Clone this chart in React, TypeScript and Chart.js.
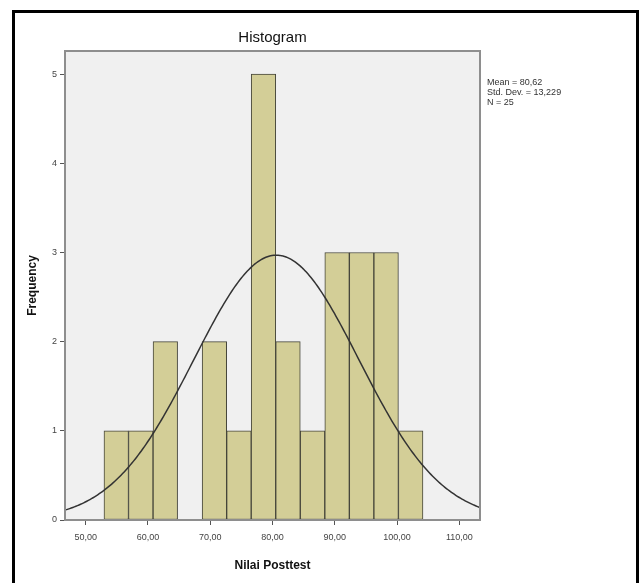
import React, { useEffect, useRef } from "react";
import { Chart, registerables } from "chart.js";

Chart.register(...registerables);

// ---- data ----
const BIN_LOWER = [52.94, 56.88, 60.82, 64.76, 68.70, 72.64, 76.58, 80.52, 84.46, 88.40, 92.34, 96.28, 100.22];
const BIN_WIDTH = 3.94;
const COUNTS = [1, 1, 2, 0, 2, 1, 5, 2, 1, 3, 3, 3, 1];
const X_TICKS = [50, 60, 70, 80, 90, 100, 110];
const Y_TICKS = [0, 1, 2, 3, 4, 5];
const X_MIN = 46.68;
const X_MAX = 113.32;
const Y_MAX = 5.26;
const MEAN = 80.62;
const STD_DEV = 13.229;
const N = 25;
const STATS_LINES = ["Mean = 80,62", "Std. Dev. = 13,229", "N = 25"];
const TITLE = "Histogram";
const X_TITLE = "Nilai Posttest";
const Y_TITLE = "Frequency";

const FONT = 'Arial, "Liberation Sans", sans-serif';

function normalCurve() {
  const pts: { x: number; y: number }[] = [];
  const k = (N * BIN_WIDTH) / (STD_DEV * Math.sqrt(2 * Math.PI));
  for (let x = X_MIN; x <= X_MAX + 1e-9; x += 0.25) {
    const z = (x - MEAN) / STD_DEV;
    pts.push({ x, y: k * Math.exp(-0.5 * z * z) });
  }
  return pts;
}

const decorPlugin = {
  id: "decor",
  beforeDatasetsDraw(chart: any) {
    const { ctx, chartArea: ca } = chart;
    ctx.save();
    ctx.fillStyle = "#f0f0f0";
    ctx.fillRect(ca.left, ca.top, ca.right - ca.left, ca.bottom - ca.top);
    ctx.restore();
  },
  afterDraw(chart: any) {
    const { ctx, chartArea: ca } = chart;
    ctx.save();
    ctx.strokeStyle = "#8e8e8e";
    ctx.lineWidth = 2;
    ctx.strokeRect(ca.left, ca.top, ca.right - ca.left, ca.bottom - ca.top);

    const cx = (ca.left + ca.right) / 2;
    const cy = (ca.top + ca.bottom) / 2;
    ctx.fillStyle = "#111";
    ctx.textAlign = "center";
    ctx.textBaseline = "middle";
    ctx.font = `15px ${FONT}`;
    ctx.fillText(TITLE, cx, ca.top - 13);

    ctx.font = `bold 12px ${FONT}`;
    ctx.fillText(X_TITLE, cx, ca.bottom + 46);

    ctx.save();
    ctx.translate(ca.left - 32, cy);
    ctx.rotate(-Math.PI / 2);
    ctx.fillText(Y_TITLE, 0, 0);
    ctx.restore();

    ctx.font = `9px ${FONT}`;
    ctx.fillStyle = "#333";
    ctx.textAlign = "left";
    STATS_LINES.forEach((s, i) => {
      ctx.fillText(s, ca.right + 7, ca.top + 32 + i * 10);
    });
    ctx.restore();
  },
};

export default function App() {
  const ref = useRef<HTMLCanvasElement | null>(null);

  useEffect(() => {
    if (!ref.current) return;
    const barData = BIN_LOWER.map((lo, i) => ({ x: lo + BIN_WIDTH / 2, y: COUNTS[i] }));
    const chart = new Chart(ref.current, {
      type: "bar",
      data: {
        datasets: [
          {
            type: "line",
            data: normalCurve(),
            borderColor: "#333333",
            borderWidth: 1.5,
            pointRadius: 0,
            tension: 0,
            fill: false,
            order: 0,
          } as any,
          {
            type: "bar",
            data: barData,
            backgroundColor: "#d3ce97",
            borderColor: "#45453a",
            borderWidth: 1,
            borderSkipped: false,
            barPercentage: 1,
            categoryPercentage: 1,
            order: 1,
          } as any,
        ],
      },
      options: {
        animation: false,
        responsive: true,
        maintainAspectRatio: false,
        devicePixelRatio: 1,
        layout: { padding: { left: 0, top: 51, right: 159, bottom: 33 } },
        plugins: {
          legend: { display: false },
          tooltip: { enabled: false },
          title: { display: false },
        },
        scales: {
          x: {
            type: "linear",
            min: X_MIN,
            max: X_MAX,
            offset: false,
            afterBuildTicks: (s: any) => {
              s.ticks = X_TICKS.map((v) => ({ value: v }));
            },
            afterFit: (s: any) => {
              s.height = 30;
            },
            ticks: {
              autoSkip: false,
              maxRotation: 0,
              color: "#444",
              font: { size: 9, family: FONT },
              padding: 7,
              callback: (v: any) => Number(v).toFixed(2).replace(".", ","),
            },
            grid: {
              offset: false,
              drawOnChartArea: false,
              drawTicks: true,
              tickLength: 5,
              color: "#555",
              lineWidth: 1,
            },
            border: { display: false },
          },
          y: {
            type: "linear",
            min: 0,
            max: Y_MAX,
            afterBuildTicks: (s: any) => {
              s.ticks = Y_TICKS.map((v) => ({ value: v }));
            },
            afterFit: (s: any) => {
              s.width = 65;
            },
            ticks: {
              color: "#444",
              font: { size: 9, family: FONT },
              padding: 3,
              callback: (v: any) => String(v),
            },
            grid: {
              drawOnChartArea: false,
              drawTicks: true,
              tickLength: 5,
              color: "#555",
              lineWidth: 1,
            },
            border: { display: false },
          },
        },
      },
      plugins: [decorPlugin],
    });
    return () => chart.destroy();
  }, []);

  return (
    <div style={{ position: "fixed", left: 0, top: 0, width: 639, height: 583, background: "#fff", overflow: "hidden" }}>
      <canvas ref={ref} style={{ width: 639, height: 583 }} />
      <div
        style={{
          position: "absolute",
          left: 12,
          top: 10,
          width: 621,
          height: 600,
          borderLeft: "3px solid #000",
          borderTop: "3px solid #000",
          borderRight: "3px solid #000",
          pointerEvents: "none",
        }}
      />
    </div>
  );
}
